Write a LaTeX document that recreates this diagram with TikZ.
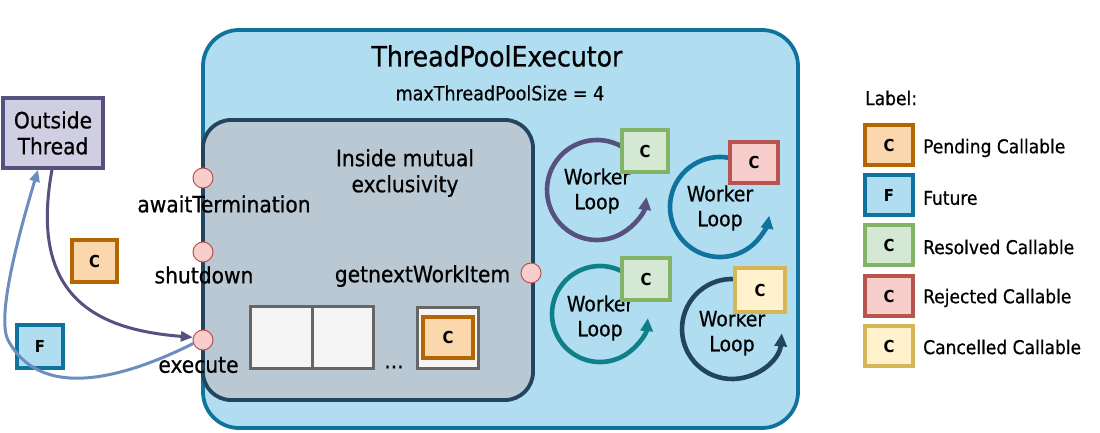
\documentclass[tikz,border=0pt]{standalone}
\usepackage{fontspec}
\setmainfont{DejaVu Sans Condensed}[UprightFeatures={FakeBold=0.6}]
\usetikzlibrary{arrows.meta,calc}
\definecolor{tpeFill}{HTML}{B1DDF0}
\definecolor{tpeLine}{HTML}{10739E}
\definecolor{mxFill}{HTML}{BAC8D3}
\definecolor{mxLine}{HTML}{23445D}
\definecolor{otFill}{HTML}{D0CEE2}
\definecolor{otLine}{HTML}{56517E}
\definecolor{pendFill}{HTML}{FAD7AC}
\definecolor{pendLine}{HTML}{B46504}
\definecolor{resFill}{HTML}{D5E8D4}
\definecolor{resLine}{HTML}{82B366}
\definecolor{rejFill}{HTML}{F8CECC}
\definecolor{rejLine}{HTML}{B85450}
\definecolor{canFill}{HTML}{FFF2CC}
\definecolor{canLine}{HTML}{D6B656}
\definecolor{qFill}{HTML}{F5F5F5}
\definecolor{qLine}{HTML}{666666}
\definecolor{teal}{HTML}{0E8088}
\definecolor{backBlue}{HTML}{6C8EBF}
\begin{document}
\begin{tikzpicture}[x=1pt,y=-1pt,
  lbl/.style={font=\fontsize{22.5}{26}\selectfont, inner sep=0pt, align=center},
  leg/.style={font=\fontsize{19}{22}\selectfont, inner sep=0pt, anchor=west},
  cbox/.style={draw, line width=3.2pt, rectangle, inner sep=0pt,
    minimum width=47pt, minimum height=42pt, font=\bfseries\fontsize{16.5}{18}\selectfont},
  pend/.style={cbox, fill=pendFill, draw=pendLine},
  fut/.style={cbox, fill=tpeFill, draw=tpeLine},
  res/.style={cbox, fill=resFill, draw=resLine},
  rej/.style={cbox, fill=rejFill, draw=rejLine},
  can/.style={cbox, fill=canFill, draw=canLine},
  port/.style={circle, draw=rejLine, fill=rejFill, line width=1pt, minimum size=20pt, inner sep=0pt},
  qcell/.style={rectangle, draw=qLine, fill=qFill, line width=3pt, inner sep=0pt},
  wloop/.style={line width=4.6pt, -{Triangle[length=13pt,width=12pt]}},
  conn/.style={line width=3pt, -{Triangle[length=12pt,width=10pt]}},
  wtext/.style={font=\fontsize{21}{25}\selectfont, inner sep=0pt, align=center}]
\useasboundingbox (0,0) rectangle (1100,433);

% outer executor box
\node[rectangle, rounded corners=36pt, fill=tpeFill, draw=tpeLine, line width=3.8pt,
  minimum width=595pt, minimum height=398pt] (tpe) at (500.5,229) {};
\node[font=\fontsize{28}{30}\selectfont, inner sep=0pt] (title) at (497,56) {ThreadPoolExecutor};
\node[font=\fontsize{19.5}{21}\selectfont, inner sep=0pt] (maxsz) at (500,93) {maxThreadPoolSize = 4};

% inner mutual exclusivity box
\node[rectangle, rounded corners=28pt, fill=mxFill, draw=mxLine, line width=3.8pt,
  minimum width=330pt, minimum height=280pt] (mx) at (368,260) {};
\node[lbl] (mxt) at (405,173) {Inside mutual\\exclusivity};

% queue
\node[qcell, minimum width=62pt, minimum height=62pt] (q1) at (281.5,337) {};
\node[qcell, minimum width=61pt, minimum height=62pt] (q2) at (342.5,337) {};
\node[lbl] (dots) at (394,367) {...};
\node[qcell, minimum width=61pt, minimum height=61pt] (q3) at (447.5,337.5) {};
\node[pend, minimum width=50pt, minimum height=41pt] (qc) at (448,337.5) {C};

% ports
\node[port] (aw) at (203,178) {};
\node[port] (sd) at (203,252) {};
\node[port] (ex) at (203,340) {};
\node[port] (gw) at (531,273) {};
\node[lbl] (awl) at (224,204) {awaitTermination};
\node[lbl] (sdl) at (204,275) {shutdown};
\node[lbl] (exl) at (198.5,365) {execute};
\node[lbl] (gwl) at (422.5,276) {getnextWorkItem};

% worker loops
\node[wtext] (w1) at (597,191) {Worker\\Loop};
\node[wtext] (w2) at (720,208) {Worker\\Loop};
\node[wtext] (w3) at (600,318) {Worker\\Loop};
\node[wtext] (w4) at (732,333) {Worker\\Loop};
\draw[wloop, draw=otLine] ($(w1.center)+(0,-1)$) ++(-60:50) arc[start angle=-60, end angle=-352, radius=50];
\draw[wloop, draw=tpeLine] ($(w2.center)+(0,-1)$) ++(-78:50) arc[start angle=-78, end angle=-350, radius=50];
\draw[wloop, draw=teal] ($(w3.center)+(0,-4)$) ++(-62:48) arc[start angle=-62, end angle=-355, radius=48];
\draw[wloop, draw=mxLine] ($(w4.center)+(0,-4)$) ++(-86:50) arc[start angle=-86, end angle=-355, radius=50];
\node[res, minimum width=46pt] (c1) at (645,151) {C};
\node[rej, minimum width=48pt, minimum height=41pt] (c2) at (754,162.5) {C};
\node[res, minimum width=48pt] (c3) at (646,279) {C};
\node[can, minimum width=50pt, minimum height=44pt] (c4) at (760,290) {C};

% outside thread
\node[rectangle, fill=otFill, draw=otLine, line width=3.4pt, minimum width=100pt, minimum height=70pt,
  font=\fontsize{22.5}{26}\selectfont, align=center, inner sep=0pt] (ot) at (53,133) {Outside\\Thread};
\node[pend, minimum width=45pt, minimum height=42pt] (cp) at (94.5,261) {C};
\node[fut, minimum width=46pt, minimum height=43pt] (fp) at (40,346.5) {F};

% connectors
\coordinate (blw) at (8,340);
\draw[conn, draw=otLine] ($(ot.south)+(-1,0)$) .. controls (28,300) and (100,330) .. (ex.165);
\draw[conn, draw=backBlue] (ex.200) .. controls (120,380) and (40,400) .. (blw)
  .. controls (-4,316) and (20,230) .. ($(ot.south)+(-15,0)$);

% legend
\node[leg] (legt) at (865,98) {Label:};
\node[pend, minimum width=48pt, minimum height=40pt] (l1) at (889,145) {C};
\node[fut, minimum width=48pt, minimum height=40pt] (l2) at (889,195) {F};
\node[res, minimum width=48pt, minimum height=40pt] (l3) at (889,245) {C};
\node[rej, minimum width=48pt, minimum height=40pt] (l4) at (889,296) {C};
\node[can, minimum width=48pt, minimum height=40pt] (l5) at (889,346) {C};
\node[leg] (t1) at (923,148) {Pending Callable};
\node[leg] (t2) at (923,198) {Future};
\node[leg] (t3) at (923,247) {Resolved Callable};
\node[leg] (t4) at (923,298) {Rejected Callable};
\node[leg] (t5) at (923,347) {Cancelled Callable};
\end{tikzpicture}
\end{document}
